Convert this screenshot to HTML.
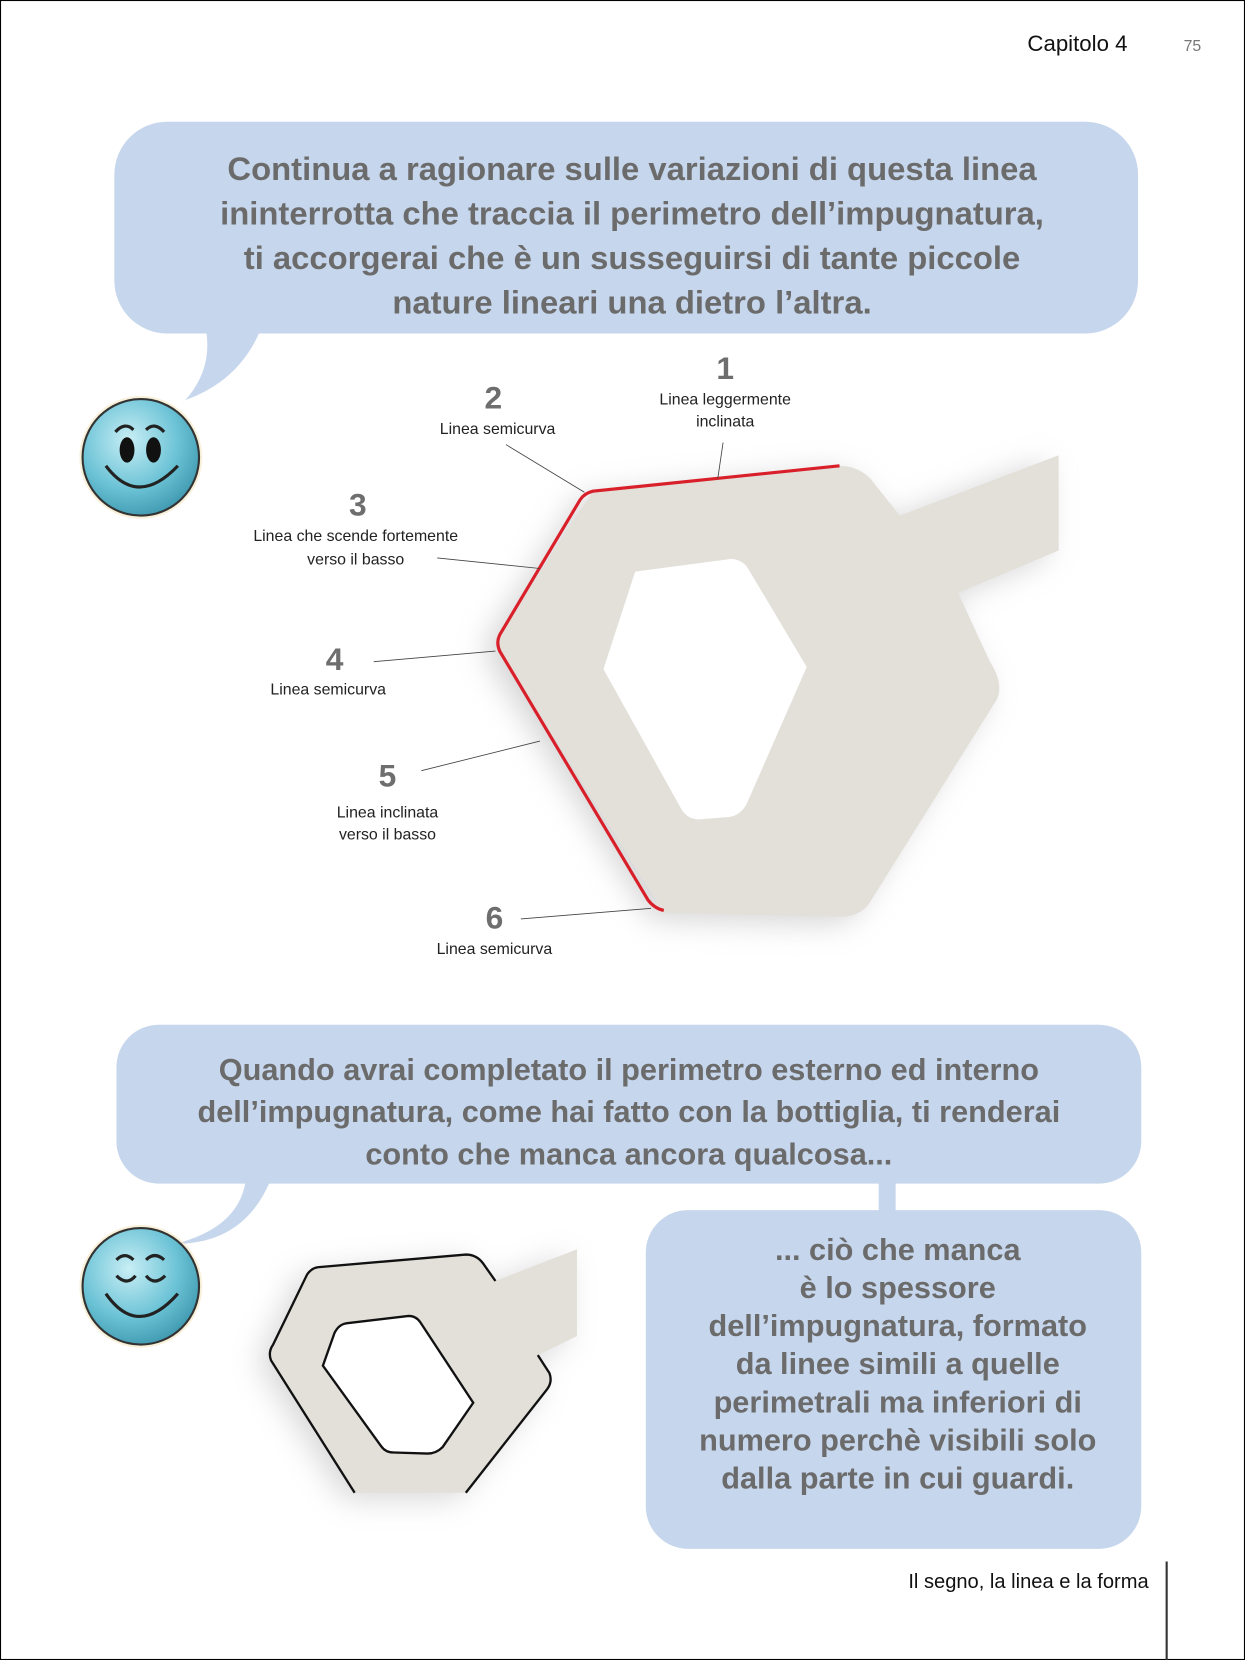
<!DOCTYPE html>
<html><head><meta charset="utf-8"><style>
html,body{margin:0;padding:0;background:#fff}
svg{display:block}
.b{font-family:"Liberation Sans",sans-serif;font-weight:bold;fill:#6b6b6b;text-anchor:middle}
.n{font-family:"Liberation Sans",sans-serif;font-weight:bold;fill:#6e6e6e;text-anchor:middle;font-size:30px}
.l{font-family:"Liberation Sans",sans-serif;fill:#222;text-anchor:middle;font-size:15px}
</style></head><body>
<svg width="1245" height="1660" viewBox="0 0 1176 1568" xmlns="http://www.w3.org/2000/svg">
<defs>
<filter id="sh" x="-30%" y="-30%" width="160%" height="160%"><feGaussianBlur stdDeviation="14"/></filter>
<radialGradient id="face" cx="40%" cy="35%" r="70%"><stop offset="0" stop-color="#c8eef5"/><stop offset="0.6" stop-color="#6cc3d6"/><stop offset="1" stop-color="#3d97ad"/></radialGradient>
</defs>
<rect x="0.5" y="0.5" width="1175" height="1567" fill="#fff" stroke="#000" stroke-width="1"/>
<text x="1065" y="48" font-family="Liberation Sans,sans-serif" font-size="21" fill="#111" text-anchor="end">Capitolo 4</text>
<text x="1118" y="48" font-family="Liberation Sans,sans-serif" font-size="15" fill="#777">75</text>

<!-- bubble 1 -->
<path d="M195,314 Q200,350 175,378 Q225,360 245,314 Z" fill="#c6d6ec"/>
<rect x="108" y="115" width="967" height="200" rx="50" fill="#c6d6ec"/>
<g class="b" font-size="31">
<text x="597" y="170">Continua a ragionare sulle variazioni di questa linea</text>
<text x="597" y="212">ininterrotta che traccia il perimetro dell’impugnatura,</text>
<text x="597" y="254">ti accorgerai che è un susseguirsi di tante piccole</text>
<text x="597" y="296">nature lineari una dietro l’altra.</text>
</g>

<!-- smiley 1 -->
<circle cx="133" cy="432" r="58" fill="#f4e6c0" opacity="0.6"/>
<circle cx="133" cy="432" r="55" fill="url(#face)" stroke="#333" stroke-width="2"/>
<ellipse cx="120" cy="425" rx="7" ry="12" fill="#111"/><ellipse cx="145" cy="425" rx="7" ry="12" fill="#111"/>
<path d="M109,408 Q118,398 126,406 M138,406 Q146,398 155,408" stroke="#222" stroke-width="3" fill="none"/>
<path d="M100,440 Q130,480 168,440" stroke="#222" stroke-width="3" fill="none"/>

<!-- big key -->
<g>
<path d="M560,464 L793,440 Q810,440 822,452 L850,487 L1000,430 L1000,520 L905,560 L935,625 Q948,645 942,660 L820,855 Q810,866 795,866 L627,862 L472,615 L473,598 Z" fill="#aaa" filter="url(#sh)" opacity="0.5" transform="translate(-12,6)"/>
<path d="M560,464 L793,440 Q810,440 822,452 L850,487 L1000,430 L1000,520 L905,560 L935,625 Q948,645 942,660 L820,855 Q810,866 795,866 L627,862 L472,615 L473,598 Z" fill="#e3e0da"/>
<path d="M600,540 L690,528 Q700,528 706,536 L762,630 L705,760 Q698,772 685,772 L660,774 Q650,774 644,765 L570,632 Z" fill="#fff"/>
<path d="M793,440 L560,464 Q552,466 548,472 L473,598 Q468,606 472,615 L612,850 Q618,858 627,860" stroke="#d9202a" stroke-width="3" fill="none"/>
</g>
<g stroke="#444" stroke-width="0.8">
<line x1="683" y1="418" x2="678" y2="452"/>
<line x1="478" y1="420" x2="552" y2="465"/>
<line x1="413" y1="527" x2="510" y2="537"/>
<line x1="353" y1="625" x2="468" y2="615"/>
<line x1="398" y1="728" x2="510" y2="700"/>
<line x1="492" y1="868" x2="615" y2="858"/>
</g>
<text class="n" x="685" y="358">1</text><text class="l" x="685" y="382">Linea leggermente</text><text class="l" x="685" y="403">inclinata</text>
<text class="n" x="466" y="386">2</text><text class="l" x="470" y="410">Linea semicurva</text>
<text class="n" x="338" y="487">3</text><text class="l" x="336" y="511">Linea che scende fortemente</text><text class="l" x="336" y="533">verso il basso</text>
<text class="n" x="316" y="633">4</text><text class="l" x="310" y="656">Linea semicurva</text>
<text class="n" x="366" y="743">5</text><text class="l" x="366" y="772">Linea inclinata</text><text class="l" x="366" y="793">verso il basso</text>
<text class="n" x="467" y="877">6</text><text class="l" x="467" y="901">Linea semicurva</text>

<!-- bubble 2 -->
<path d="M232,1116 Q225,1160 165,1175 Q230,1175 255,1116 Z" fill="#c6d6ec"/>
<rect x="110" y="968" width="968" height="150" rx="40" fill="#c6d6ec"/>
<g class="b" font-size="29">
<text x="594" y="1020">Quando avrai completato il perimetro esterno ed interno</text>
<text x="594" y="1060">dell’impugnatura, come hai fatto con la bottiglia, ti renderai</text>
<text x="594" y="1100">conto che manca ancora qualcosa...</text>
</g>
<rect x="830" y="1110" width="16" height="40" fill="#c6d6ec"/>
<rect x="610" y="1143" width="468" height="320" rx="40" fill="#c6d6ec"/>
<g class="b" font-size="29">
<text x="848" y="1190">... ciò che manca</text>
<text x="848" y="1226">è lo spessore</text>
<text x="848" y="1262">dell’impugnatura, formato</text>
<text x="848" y="1298">da linee simili a quelle</text>
<text x="848" y="1334">perimetrali ma inferiori di</text>
<text x="848" y="1370">numero perchè visibili solo</text>
<text x="848" y="1406">dalla parte in cui guardi.</text>
</g>

<!-- smiley 2 -->
<circle cx="133" cy="1215" r="58" fill="#f4e6c0" opacity="0.6"/>
<circle cx="133" cy="1215" r="55" fill="url(#face)" stroke="#333" stroke-width="2"/>
<path d="M110,1205 Q120,1215 128,1205 M138,1205 Q146,1215 156,1205" stroke="#222" stroke-width="3" fill="none"/>
<path d="M110,1190 Q118,1182 126,1190 M138,1190 Q146,1182 155,1190" stroke="#222" stroke-width="3" fill="none"/>
<path d="M100,1222 Q130,1265 168,1222" stroke="#222" stroke-width="3" fill="none"/>

<!-- small key -->
<path d="M300,1197 L440,1185 Q450,1185 456,1193 L468,1210 L545,1180 L545,1262 L508,1280 L519,1297 Q522,1305 517,1312 L440,1410 L335,1410 L256,1285 Q253,1277 258,1270 L290,1204 Q294,1198 300,1197 Z" fill="#aaa" filter="url(#sh)" opacity="0.45" transform="translate(-10,6)"/>
<path d="M300,1197 L440,1185 Q450,1185 456,1193 L468,1210 L545,1180 L545,1262 L508,1280 L519,1297 Q522,1305 517,1312 L440,1410 L335,1410 L256,1285 Q253,1277 258,1270 L290,1204 Q294,1198 300,1197 Z" fill="#e3e0da"/>
<path d="M468,1210 L456,1193 Q450,1185 440,1185 L300,1197 Q294,1198 290,1204 L258,1270 Q253,1277 256,1285 L335,1410 M440,1410 L517,1312 Q522,1305 519,1297 L508,1280" fill="none" stroke="#111" stroke-width="2.2"/>
<path d="M327,1250 L386,1243 Q393,1243 397,1249 L447,1325 L418,1367 Q412,1373 404,1373 L372,1372 Q364,1372 360,1366 L305,1290 L316,1259 Q320,1251 327,1250 Z" fill="#fff" stroke="#111" stroke-width="2.2"/>

<!-- footer -->
<text x="1085" y="1500" font-family="Liberation Sans,sans-serif" font-size="19" fill="#111" text-anchor="end">Il segno, la linea e la forma</text>
<line x1="1102" y1="1475" x2="1102" y2="1568" stroke="#333" stroke-width="2"/>
</svg>
</body></html>
